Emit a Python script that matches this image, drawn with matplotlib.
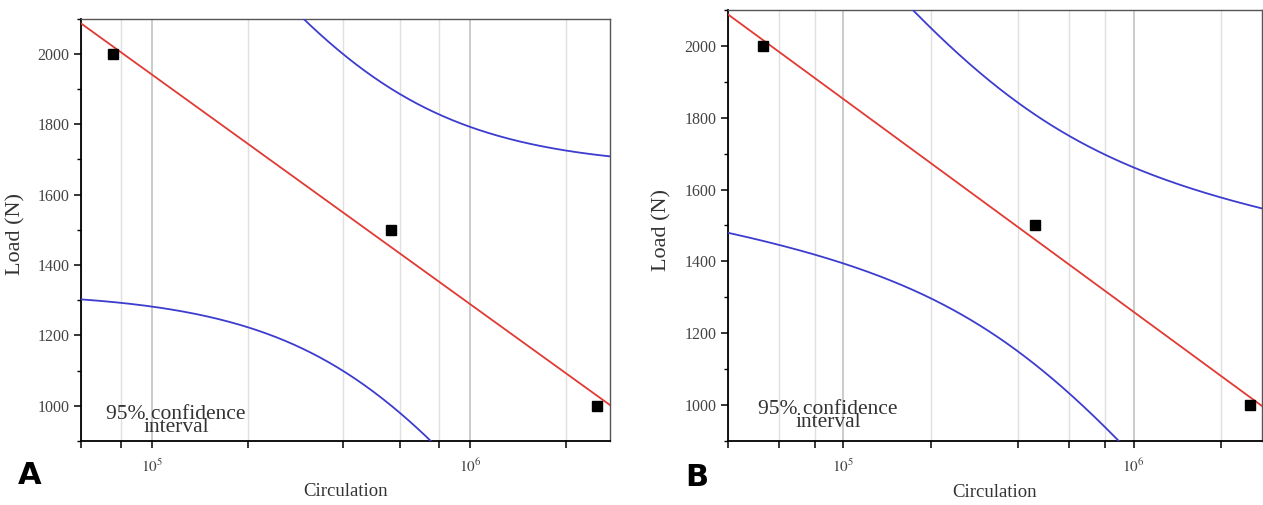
import numpy as np
import matplotlib
matplotlib.use('Agg')
import matplotlib.pyplot as plt
from matplotlib.ticker import LogLocator, FixedLocator, MultipleLocator, FuncFormatter

plt.rcParams['font.family'] = 'Liberation Serif'
plt.rcParams['mathtext.fontset'] = 'stix'

# Panel A data (cycles vs load)
cycles_a = [7.56e4, 5.65e5, 2.5e6]
load_a = [2000, 1500, 1000]

# Panel B data
cycles_b = [5.27e4, 4.56e5, 2.52e6]
load_b = [2000, 1500, 1000]

xlim_a = (6e4, 2.75e6)
xlim_b = (4e4, 2.77e6)

# two-sided 95% t value, n - 2 = 1 degree of freedom
t_95 = 12.706

fig = plt.figure(figsize=(12.63, 5.05), dpi=100)
ax_a = fig.add_axes([0.0641, 0.127, 0.419, 0.836])
ax_b = fig.add_axes([0.5764, 0.127, 0.4228, 0.853])


def draw(ax, n, l, xlim, txt_xy):
    ax.set_xscale('log')
    ax.set_xlim(*xlim)
    ax.set_ylim(900, 2100)

    # least squares line of load against log cycles, with 95% band of the mean
    x = np.log10(n)
    l = np.asarray(l, dtype=float)
    b, a = np.polyfit(x, l, 1)
    resid = l - (a + b * x)
    s = np.sqrt(np.sum(resid ** 2) / (len(x) - 2))
    sxx = np.sum((x - x.mean()) ** 2)

    xs = np.linspace(np.log10(xlim[0]), np.log10(xlim[1]), 300)
    fit = a + b * xs
    half = t_95 * s * np.sqrt(1 / len(x) + (xs - x.mean()) ** 2 / sxx)

    ax.plot(10 ** xs, fit, color='#e03a33', lw=1.3, zorder=3)
    ax.plot(10 ** xs, fit + half, color='#3c3ccf', lw=1.3, zorder=3)
    ax.plot(10 ** xs, fit - half, color='#3c3ccf', lw=1.3, zorder=3)
    ax.plot(n, l, 's', color='black', ms=6.5, zorder=4)

    ax.xaxis.set_major_locator(FixedLocator([1e5, 1e6]))
    ax.xaxis.set_minor_locator(LogLocator(base=10, subs=[2, 4, 6, 8]))
    ax.xaxis.set_major_formatter(FuncFormatter(lambda v, p: r'$10^{%d}$' % round(np.log10(v))))
    ax.xaxis.set_minor_formatter(FuncFormatter(lambda v, p: ''))
    ax.yaxis.set_major_locator(MultipleLocator(200))
    ax.yaxis.set_minor_locator(MultipleLocator(100))

    ax.grid(True, which='major', axis='x', color='#bdbdbd', lw=1.1, zorder=0)
    ax.grid(True, which='minor', axis='x', color='#e0e0e0', lw=1.0, zorder=0)

    ax.tick_params(axis='x', which='both', direction='out', length=5, width=1.1,
                   labelsize=11, labelcolor='#444444', pad=7)
    ax.tick_params(axis='y', which='major', direction='out', length=5, width=1.1,
                   labelsize=11.5, labelcolor='#444444')
    ax.tick_params(axis='y', which='minor', direction='out', length=3, width=1.0)

    for sp in ['left', 'bottom']:
        ax.spines[sp].set_linewidth(1.3)
        ax.spines[sp].set_color('black')
    for sp in ['top', 'right']:
        ax.spines[sp].set_linewidth(1.0)
        ax.spines[sp].set_color('#555555')

    ax.set_xlabel('Circulation', fontsize=13.5, color='#333333')
    ax.xaxis.set_label_coords(0.5, -0.1)
    ax.set_ylabel('Load (N)', fontsize=16, color='#333333')
    ax.yaxis.set_label_coords(-0.105, 0.49)

    ax.text(txt_xy[0], txt_xy[1], '95% confidence\ninterval', transform=ax.transAxes,
            ha='center', va='bottom', multialignment='center', linespacing=0.62,
            fontsize=15.5, color='#333333')


draw(ax_a, cycles_a, load_a, xlim_a, (0.18, 0.008))
draw(ax_b, cycles_b, load_b, xlim_b, (0.187, 0.02))

fig.text(30 / 1263, 1 - 475 / 505, 'A', fontsize=22, fontweight='bold',
         family='DejaVu Sans', ha='center', va='center')
fig.text(697 / 1263, 1 - 478 / 505, 'B', fontsize=22, fontweight='bold',
         family='DejaVu Sans', ha='center', va='center')

fig.savefig('out.png', dpi=100)
